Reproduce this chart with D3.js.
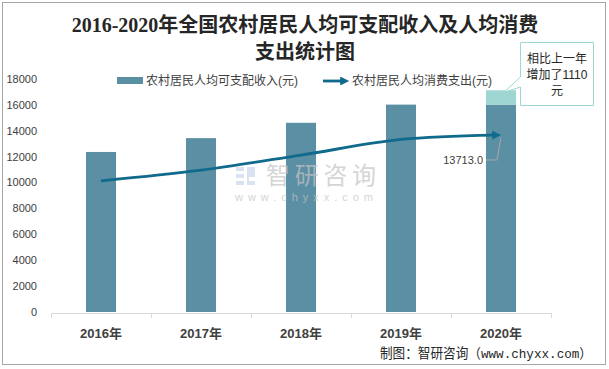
<!DOCTYPE html>
<html><head><meta charset="utf-8">
<script src="https://cdn.jsdelivr.net/npm/d3@7"></script>
<style>body{margin:0;background:#fff}svg{display:block}</style>
</head><body>
<svg id="c" width="609" height="369"></svg>
<script>
const years = ["2016年","2017年","2018年","2019年","2020年"];
const income = [12363, 13432, 14617, 16021, 17131];
const consumption = [10130, 10955, 12124, 13328, 13713];
const yTicks = [0,2000,4000,6000,8000,10000,12000,14000,16000,18000];
const titleLines = ["2016-2020年全国农村居民人均可支配收入及人均消费","支出统计图"];
const legendLabels = ["农村居民人均可支配收入(元)","农村居民人均消费支出(元)"];
const calloutLines = ["相比上一年","增加了1110","元"];
const sourceText = "制图：智研咨询（www.chyxx.com）";

const svg = d3.select("#c");
const barColor = "#5b8fa3", incColor = "#9fd6d1", lineColor = "#0f6a8b", txt = "#404040";
const cjk = "'Liberation Sans','Noto Sans CJK SC',sans-serif";

svg.append("rect").attr("x",2.5).attr("y",2.5).attr("width",603).attr("height",362)
  .attr("fill","#fff").attr("stroke","#a6a6a6").attr("stroke-width",1);

const x = d3.scaleBand().domain(years).range([51,551]).paddingInner(0.7).paddingOuter(0.35);
const y = d3.scaleLinear().domain([0,18000]).range([312,79]);

// title
svg.append("g").selectAll("text").data(titleLines).join("text")
  .attr("x",305).attr("y",(d,i)=>32+i*27).attr("text-anchor","middle")
  .attr("font-family","'Liberation Serif','Noto Sans CJK SC',serif").attr("font-weight","bold")
  .attr("font-size",20).attr("fill","#262626").text(d=>d);

// y axis labels
svg.append("g").selectAll("text").data(yTicks).join("text")
  .attr("x",37).attr("y",d=>y(d)).attr("dy","0.35em").attr("text-anchor","end")
  .attr("font-family","'Liberation Sans',Arial,sans-serif").attr("font-size",11).attr("fill",txt).text(d=>d);

// bars
const prev = income.map((v,i)=> i===income.length-1 ? income[i-1] : v);
svg.append("g").selectAll("rect").data(years).join("rect")
  .attr("x",d=>x(d)).attr("width",x.bandwidth())
  .attr("y",(d,i)=>y(prev[i])).attr("height",(d,i)=>y(0)-y(prev[i])).attr("fill",barColor);
const li = years.length-1;
svg.append("rect").attr("x",x(years[li])).attr("width",x.bandwidth())
  .attr("y",y(income[li])).attr("height",y(income[li-1])-y(income[li])).attr("fill",incColor);

// x axis
const xa = svg.append("g");
xa.append("line").attr("x1",51).attr("x2",551).attr("y1",313.5).attr("y2",313.5).attr("stroke","#d9d9d9");
const bounds = years.map(d=>x(d)-x.step()*0.35).concat([551]);
xa.selectAll("line.t").data(bounds).join("line").attr("class","t")
  .attr("x1",d=>Math.round(d)+0.5).attr("x2",d=>Math.round(d)+0.5).attr("y1",313).attr("y2",318).attr("stroke","#d9d9d9");
xa.selectAll("text").data(years).join("text")
  .attr("x",d=>x(d)+x.bandwidth()/2).attr("y",333).attr("dy","0.35em").attr("text-anchor","middle")
  .attr("font-family",cjk).attr("font-weight","bold").attr("font-size",13).attr("fill",txt).text(d=>d);

// watermark
const wm = svg.append("g").attr("opacity",0.7);
wm.append("path").attr("d","M236,167h8v4h-8zM236,174h8v4h-8zM236,181h8v4h-8zM247,167h8v10h-6v4h6v4h-8z").attr("fill","#c8d6ea");
wm.append("text").attr("x",266).attr("y",184).attr("font-family",cjk).attr("font-size",24).attr("fill","#c4c4c4")
  .attr("textLength",110).text("智研咨询");
wm.append("text").attr("x",235).attr("y",201).attr("font-family",cjk).attr("font-size",11).attr("fill","#c4c4c4")
  .attr("textLength",138).attr("lengthAdjust","spacing").text("www.chyxx.com");

// line
svg.append("defs").append("marker").attr("id","arr").attr("viewBox","0 0 10 10").attr("refX",2).attr("refY",5)
  .attr("markerWidth",4).attr("markerHeight",3.2).attr("orient","auto").attr("markerUnits","strokeWidth")
  .append("path").attr("d","M0,0L10,5L0,10z").attr("fill",lineColor);
const pts = consumption.map((v,i)=>[x(years[i])+x.bandwidth()/2, y(v)]);
const last = pts[pts.length-1];
pts[pts.length-1] = [last[0]-7, last[1]+0.6];
svg.append("path").datum(pts).attr("d",d3.line().curve(d3.curveCatmullRom.alpha(0.5)))
  .attr("fill","none").attr("stroke",lineColor).attr("stroke-width",2.8).attr("marker-end","url(#arr)");

// data label
svg.append("path").attr("d",`M486,160H497L${last[0]},${last[1]+3}`).attr("fill","none").attr("stroke","#a6a6a6");
svg.append("text").attr("x",483).attr("y",160).attr("dy","0.35em").attr("text-anchor","end")
  .attr("font-family","'Liberation Sans',Arial,sans-serif").attr("font-size",11).attr("fill",txt)
  .text(consumption[li].toFixed(1));

// callout
const cx0 = x(years[li])+x.bandwidth()/2;
svg.append("path").attr("d",`M520.5,42.5H593.5V105.5H520.5V87L${cx0+3},${y(income[li])+2}L520.5,77Z`)
  .attr("fill","#fff").attr("stroke","#9fd6d1");
svg.append("g").selectAll("text").data(calloutLines).join("text")
  .attr("x",557).attr("y",(d,i)=>59+i*16).attr("dy","0.35em").attr("text-anchor","middle")
  .attr("font-family",cjk).attr("font-size",12).attr("fill","#262626").text(d=>d);

// legend
const lg = svg.append("g");
lg.append("rect").attr("x",117).attr("y",77).attr("width",26).attr("height",7).attr("fill",barColor);
lg.append("text").attr("x",146).attr("y",81).attr("dy","0.35em").attr("font-family",cjk).attr("font-size",12)
  .attr("fill",txt).text(legendLabels[0]);
lg.append("line").attr("x1",323).attr("x2",342).attr("y1",81).attr("y2",81).attr("stroke",lineColor)
  .attr("stroke-width",2.8).attr("marker-end","url(#arr)");
lg.append("text").attr("x",352).attr("y",81).attr("dy","0.35em").attr("font-family",cjk).attr("font-size",12)
  .attr("fill",txt).text(legendLabels[1]);

// source
svg.append("text").attr("x",380).attr("y",353).attr("dy","0.35em")
  .attr("font-family","'Liberation Mono','Noto Sans CJK SC',monospace").attr("font-size",13.5).attr("fill","#262626")
  .attr("textLength",212).attr("lengthAdjust","spacingAndGlyphs").text(sourceText);
</script>
</body></html>
